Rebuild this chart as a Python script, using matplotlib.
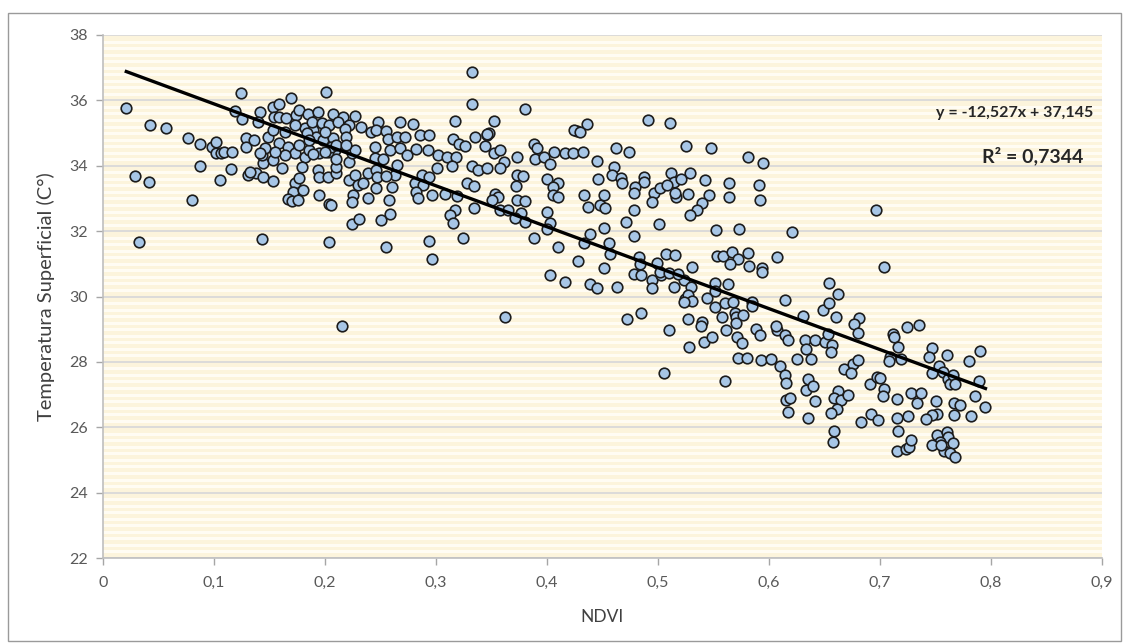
import numpy as np
import matplotlib
matplotlib.use("Agg")
import matplotlib.pyplot as plt
from matplotlib.patches import Rectangle

# ---- data (NDVI, surface temperature) ----
band_000_010 = [(0.021, 35.76), (0.029, 33.69), (0.032, 31.68), (0.041, 33.51), (0.042, 35.25),
                (0.057, 35.15), (0.077, 34.85), (0.080, 32.95), (0.087, 34.67), (0.087, 34.00),
                (0.098, 34.56)]
band_010_015 = [(0.102, 34.74), (0.102, 34.40), (0.106, 34.38), (0.109, 34.42), (0.116, 34.43),
                (0.105, 33.56), (0.115, 33.90), (0.119, 35.68), (0.124, 36.24), (0.125, 35.42),
                (0.129, 34.84), (0.129, 34.58), (0.136, 34.79), (0.138, 33.77), (0.131, 33.72),
                (0.144, 33.67), (0.132, 33.82), (0.144, 34.08), (0.143, 34.33), (0.146, 34.53),
                (0.149, 34.89), (0.141, 35.65), (0.140, 35.35), (0.141, 34.38), (0.143, 31.77)]
band_015_020 = [(0.153, 33.54), (0.161, 33.92), (0.153, 35.81), (0.159, 35.89), (0.154, 35.50),
                (0.159, 35.49), (0.165, 35.45), (0.174, 35.55), (0.177, 35.70), (0.185, 35.58),
                (0.194, 35.65), (0.153, 35.09), (0.159, 34.69), (0.167, 34.58), (0.173, 34.39),
                (0.177, 34.64), (0.182, 34.28), (0.182, 35.15), (0.189, 35.09), (0.192, 34.89),
                (0.198, 34.79), (0.186, 34.48), (0.195, 34.40), (0.179, 33.97), (0.194, 33.87),
                (0.195, 33.67), (0.173, 33.46), (0.171, 33.21), (0.180, 33.26), (0.167, 32.98),
                (0.170, 32.93), (0.176, 32.95), (0.195, 33.11), (0.177, 33.63), (0.169, 36.06),
                (0.188, 35.35), (0.197, 35.30), (0.173, 35.25), (0.164, 35.04), (0.184, 34.99),
                (0.186, 34.79), (0.153, 34.18), (0.164, 34.33), (0.189, 34.36), (0.155, 34.43)]
band_020_025 = [(0.207, 35.58), (0.204, 35.25), (0.207, 34.85), (0.209, 34.48), (0.203, 34.43),
                (0.203, 33.67), (0.210, 33.77), (0.204, 32.83), (0.204, 31.67), (0.201, 36.27),
                (0.216, 35.50), (0.227, 35.52), (0.212, 35.35), (0.222, 35.25), (0.232, 35.20),
                (0.241, 35.04), (0.248, 35.35), (0.200, 35.04), (0.218, 35.11), (0.219, 34.89),
                (0.205, 34.58), (0.210, 34.64), (0.200, 34.43), (0.210, 33.95), (0.210, 34.20),
                (0.222, 34.12), (0.224, 34.38), (0.227, 34.48), (0.219, 34.64), (0.205, 32.80),
                (0.222, 33.56), (0.227, 33.72), (0.230, 33.41), (0.234, 33.46), (0.239, 33.77),
                (0.246, 33.87), (0.246, 33.31), (0.225, 33.11), (0.224, 32.90), (0.239, 33.00),
                (0.224, 32.22), (0.231, 32.36), (0.245, 34.23), (0.245, 34.58), (0.246, 35.09),
                (0.215, 29.10), (0.247, 33.65)]
band_025_030 = [(0.255, 35.07), (0.268, 35.33), (0.279, 35.27), (0.257, 34.81), (0.265, 34.89),
                (0.272, 34.87), (0.259, 34.48), (0.268, 34.53), (0.274, 34.33), (0.252, 34.20),
                (0.265, 34.02), (0.263, 33.72), (0.286, 34.94), (0.294, 34.94), (0.282, 34.50),
                (0.293, 34.48), (0.287, 33.72), (0.294, 33.67), (0.281, 33.46), (0.288, 33.41),
                (0.282, 33.21), (0.284, 33.00), (0.296, 33.11), (0.250, 32.34), (0.259, 32.52),
                (0.258, 32.95), (0.255, 33.69), (0.260, 33.36), (0.255, 31.51), (0.294, 31.70),
                (0.296, 31.15)]
band_030_035 = [(0.302, 34.33), (0.310, 34.28), (0.318, 34.26), (0.314, 33.99), (0.301, 33.92),
                (0.308, 33.14), (0.319, 33.08), (0.315, 34.81), (0.321, 34.67), (0.326, 34.60),
                (0.335, 34.87), (0.344, 34.60), (0.346, 34.94), (0.348, 34.99), (0.332, 33.99),
                (0.338, 33.87), (0.346, 33.94), (0.328, 33.46), (0.334, 33.39), (0.317, 32.65),
                (0.313, 32.49), (0.315, 32.26), (0.334, 32.70), (0.324, 31.80), (0.332, 36.88),
                (0.332, 35.88), (0.317, 35.37), (0.346, 34.96)]
band_035_040 = [(0.352, 35.37), (0.380, 35.74), (0.352, 34.40), (0.358, 34.48), (0.361, 34.12),
                (0.358, 33.92), (0.353, 33.14), (0.356, 33.05), (0.350, 32.95), (0.358, 32.65),
                (0.365, 32.65), (0.373, 34.26), (0.388, 34.67), (0.391, 34.53), (0.389, 34.20),
                (0.397, 34.26), (0.373, 33.72), (0.378, 33.69), (0.372, 33.38), (0.373, 32.95),
                (0.380, 32.92), (0.377, 32.55), (0.371, 32.41), (0.380, 32.29), (0.388, 31.78),
                (0.362, 29.36)]
band_040_045 = [(0.403, 34.05), (0.406, 34.43), (0.416, 34.38), (0.400, 33.59), (0.410, 33.48),
                (0.405, 33.36), (0.405, 33.11), (0.410, 33.05), (0.400, 32.57), (0.403, 32.26),
                (0.400, 32.06), (0.410, 31.51), (0.403, 30.66), (0.416, 30.43), (0.436, 35.28),
                (0.427, 35.07), (0.424, 35.09), (0.430, 35.04), (0.423, 34.40), (0.432, 34.43),
                (0.445, 34.15), (0.446, 33.59), (0.433, 33.11), (0.437, 32.75), (0.448, 32.80),
                (0.439, 31.92), (0.433, 31.65), (0.428, 31.10), (0.439, 30.38), (0.445, 30.25)]
band_045_050 = [(0.491, 35.39), (0.462, 34.53), (0.474, 34.43), (0.460, 33.97), (0.459, 33.72),
                (0.467, 33.62), (0.468, 33.48), (0.487, 33.65), (0.487, 33.51), (0.479, 33.34),
                (0.478, 33.18), (0.496, 33.16), (0.495, 32.90), (0.451, 33.11), (0.452, 32.70),
                (0.478, 32.65), (0.471, 32.29), (0.451, 32.09), (0.478, 31.86), (0.456, 31.65),
                (0.457, 31.30), (0.483, 31.22), (0.484, 31.00), (0.499, 31.02), (0.451, 30.86),
                (0.478, 30.69), (0.485, 30.66), (0.495, 30.51), (0.495, 30.27), (0.463, 30.28),
                (0.472, 29.30), (0.485, 29.50)]
band_050_055 = [(0.511, 35.32), (0.502, 33.31), (0.512, 33.77), (0.514, 33.51), (0.508, 33.41),
                (0.516, 33.04), (0.501, 32.22), (0.507, 31.29), (0.515, 31.27), (0.503, 30.66),
                (0.514, 30.30), (0.502, 30.76), (0.510, 30.71), (0.523, 30.51), (0.531, 30.91),
                (0.530, 30.30), (0.524, 29.92), (0.527, 30.05), (0.531, 29.86), (0.510, 28.99),
                (0.505, 27.65), (0.527, 29.30), (0.528, 28.45), (0.540, 29.23), (0.541, 28.62),
                (0.549, 28.77), (0.544, 29.95), (0.529, 33.79), (0.521, 33.59), (0.542, 33.56),
                (0.515, 33.16), (0.527, 33.13), (0.546, 33.11), (0.540, 32.87), (0.535, 32.65),
                (0.529, 32.49), (0.518, 30.69), (0.523, 29.84), (0.539, 29.10), (0.525, 34.60),
                (0.548, 34.55)]
band_055_060 = [(0.551, 29.69), (0.551, 30.40), (0.563, 30.38), (0.560, 29.81), (0.558, 29.38),
                (0.561, 28.99), (0.560, 27.40), (0.569, 29.51), (0.570, 29.38), (0.577, 29.43),
                (0.570, 29.20), (0.571, 28.75), (0.576, 28.57), (0.572, 28.11), (0.580, 28.13),
                (0.568, 29.84), (0.585, 29.84), (0.585, 29.71), (0.553, 31.24), (0.559, 31.24),
                (0.567, 31.37), (0.572, 31.14), (0.581, 31.32), (0.565, 30.99), (0.582, 30.93),
                (0.594, 30.86), (0.594, 30.76), (0.588, 29.02), (0.592, 28.82), (0.593, 28.06),
                (0.581, 34.26), (0.595, 34.09), (0.564, 33.46), (0.591, 33.41), (0.564, 33.04),
                (0.592, 32.95), (0.552, 32.04), (0.573, 32.07), (0.551, 30.18)]
band_060_065 = [(0.607, 31.22), (0.602, 28.08), (0.607, 28.99), (0.610, 27.87), (0.614, 28.82),
                (0.617, 28.67), (0.614, 27.60), (0.615, 27.36), (0.615, 26.83), (0.619, 26.88),
                (0.617, 26.48), (0.614, 29.89), (0.631, 29.40), (0.632, 28.67), (0.633, 28.38),
                (0.625, 28.09), (0.638, 28.09), (0.641, 28.67), (0.635, 27.49), (0.633, 27.14),
                (0.640, 27.26), (0.641, 26.80), (0.635, 26.29), (0.649, 29.59), (0.650, 28.62),
                (0.621, 31.98), (0.606, 29.10)]
band_065_070 = [(0.654, 30.40), (0.654, 29.79), (0.662, 30.07), (0.660, 29.38), (0.681, 29.33),
                (0.677, 29.16), (0.680, 28.89), (0.653, 28.85), (0.657, 28.52), (0.656, 28.31),
                (0.668, 27.78), (0.676, 27.94), (0.680, 28.06), (0.674, 27.65), (0.662, 27.12),
                (0.659, 26.91), (0.665, 26.83), (0.671, 26.99), (0.661, 26.55), (0.656, 26.45),
                (0.659, 25.90), (0.658, 25.56), (0.683, 26.17), (0.691, 27.32), (0.697, 27.55),
                (0.692, 26.41), (0.698, 26.22), (0.696, 32.65)]
band_070_080 = [(0.704, 30.89), (0.724, 29.08), (0.735, 29.13), (0.712, 28.85), (0.713, 28.75),
                (0.716, 28.46), (0.709, 28.16), (0.708, 28.04), (0.719, 28.08), (0.700, 27.50),
                (0.704, 27.16), (0.703, 26.96), (0.715, 26.86), (0.715, 26.29), (0.716, 25.88),
                (0.725, 26.34), (0.728, 27.06), (0.733, 26.75), (0.737, 27.04), (0.715, 25.26),
                (0.723, 25.33), (0.726, 25.39), (0.728, 25.61), (0.747, 28.42), (0.744, 28.16),
                (0.747, 27.65), (0.753, 27.87), (0.757, 27.70), (0.760, 28.21), (0.761, 27.49),
                (0.763, 27.32), (0.766, 27.60), (0.768, 27.32), (0.780, 28.04), (0.790, 28.34),
                (0.789, 27.43), (0.786, 26.97), (0.795, 26.61), (0.782, 26.34), (0.767, 26.38),
                (0.767, 26.75), (0.772, 26.68), (0.750, 26.81), (0.751, 26.41), (0.747, 26.38),
                (0.741, 26.25), (0.751, 25.76), (0.760, 25.84), (0.761, 25.71), (0.754, 25.56),
                (0.747, 25.46), (0.766, 25.53), (0.758, 25.28), (0.763, 25.22), (0.768, 25.08),
                (0.755, 25.46)]

slope = -12.527
intercept = 37.145
r2 = 0.7344

x_ticks = [0, 0.1, 0.2, 0.3, 0.4, 0.5, 0.6, 0.7, 0.8, 0.9]
x_tick_labels = ["0", "0,1", "0,2", "0,3", "0,4", "0,5", "0,6", "0,7", "0,8", "0,9"]
y_ticks = [22, 24, 26, 28, 30, 32, 34, 36, 38]

bands = [band_000_010, band_010_015, band_015_020, band_020_025, band_025_030, band_030_035,
         band_035_040, band_040_045, band_045_050, band_050_055, band_055_060, band_060_065,
         band_065_070, band_070_080]
pts = np.array([p for b in bands for p in b])
ndvi, temp = pts[:, 0], pts[:, 1]

# ---- figure ----
plt.rcParams['font.family'] = ['Lato', 'DejaVu Sans']
fig = plt.figure(figsize=(11.26, 6.44), dpi=100)
fig.patch.set_facecolor('white')
fig.add_artist(Rectangle((8 / 1126, 3 / 644), 1113 / 1126, 628 / 644, transform=fig.transFigure,
                         fill=False, edgecolor='#9a9a9a', linewidth=1.0))

ax = fig.add_axes([103 / 1126, 1 - 558 / 644, 999 / 1126, 523 / 644])
ax.set_facecolor('#fcf4dc')
ax.set_xlim(0, 0.9)
ax.set_ylim(22, 38)

ax.set_yticks(np.arange(22, 38.01, 0.2), minor=True)
ax.grid(True, which='minor', axis='y', color='#fffcf3', linewidth=2.2, zorder=0)
ax.grid(True, which='major', axis='y', color='#d9d9d9', linewidth=1.3, zorder=0.5)
ax.tick_params(axis='y', which='minor', length=0)

ax.set_xticks(x_ticks)
ax.set_xticklabels(x_tick_labels)
ax.set_yticks(y_ticks)
ax.set_yticklabels([str(v) for v in y_ticks])
ax.tick_params(axis='both', which='major', colors='#a6a6a6', labelcolor='#595959',
               labelsize=11.5, length=5, width=1, direction='out')
ax.tick_params(axis='x', pad=8)
ax.tick_params(axis='y', pad=6)

for s in ['top', 'right']:
    ax.spines[s].set_visible(False)
for s in ['left', 'bottom']:
    ax.spines[s].set_color('#bfbfbf')
    ax.spines[s].set_linewidth(1.2)

ax.scatter(ndvi, temp, s=58, facecolor='#a7c6e6', edgecolor='#1c1c1c', linewidth=1.2, zorder=3)

xl = np.array([ndvi.min(), ndvi.max()])
ax.plot(xl, slope * xl + intercept, color='black', linewidth=2.4, zorder=4)

ax.text(1093 / 1126, 1 - 113 / 644, "y = -12,527x + 37,145", transform=fig.transFigure,
        ha='right', va='center', fontsize=11.5, fontweight='bold', color='#262626')
ax.text(1083 / 1126, 1 - 156 / 644, "R² = 0,7344", transform=fig.transFigure,
        ha='right', va='center', fontsize=14, fontweight='bold', color='#262626')

ax.set_xlabel("NDVI", fontsize=12.5, color='#404040', labelpad=14)
ax.set_ylabel("Temperatura Superficial (C°)", fontsize=14.5, color='#404040', labelpad=10)

fig.savefig("out.png", dpi=100, facecolor='white')
